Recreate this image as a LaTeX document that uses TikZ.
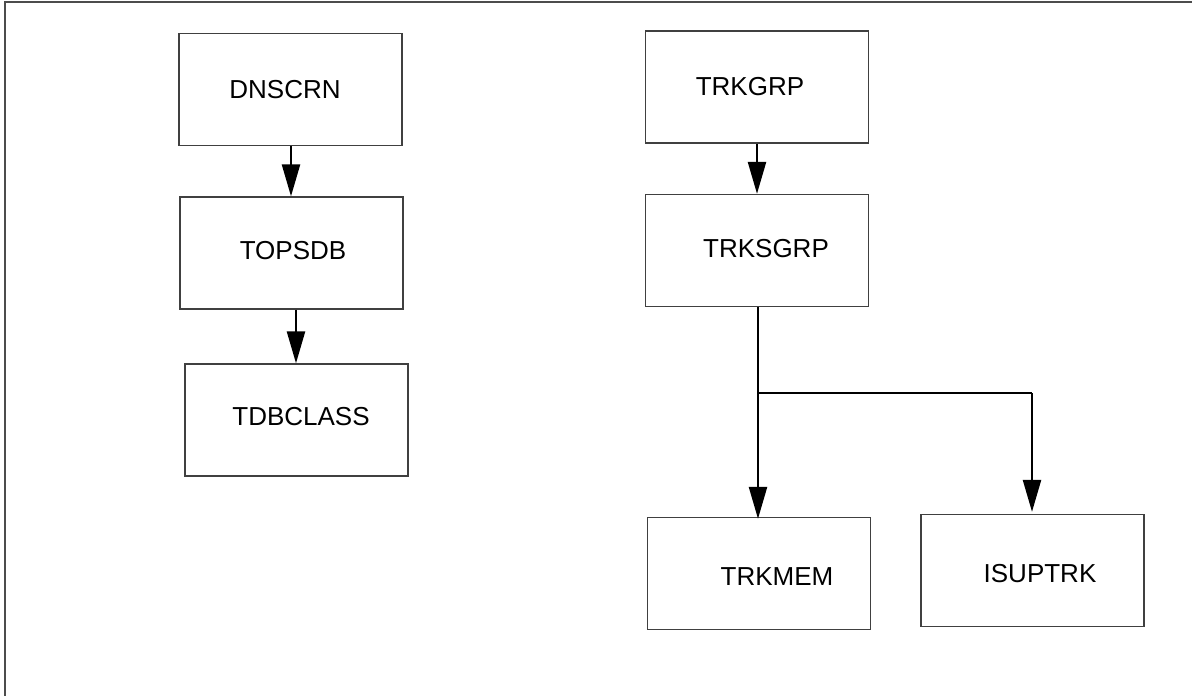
\documentclass[tikz,border=0pt]{standalone}
\usepackage{fontspec}
\setmainfont{Liberation Sans}
\usetikzlibrary{arrows.meta}
\begin{document}
\begin{tikzpicture}[x=1pt,y=-1pt,
  box/.style={draw=black!75, line width=1.3pt, fill=none, minimum width=223pt, minimum height=112pt, inner sep=0pt},
  lbl/.style={inner sep=0pt, font=\fontsize{26}{30}\selectfont},
  conn/.style={line width=2.4pt, -{Triangle[length=32pt, width=18pt]}},
  plain/.style={line width=2.2pt}]
\useasboundingbox (0,0) rectangle (1192,696);
\draw[black!70, line width=1.3pt] (5,696) -- (5,2) -- (1192,2);
% left column
\node[box] (dns) at (290.5,89.5) {};
\node[lbl] (dnsT) at (285,90) {DNSCRN};
\node[box] (tops) at (291.5,253) {};
\node[lbl] (topsT) at (293,251) {TOPSDB};
\node[box] (tdb) at (296.5,420) {};
\node[lbl] (tdbT) at (301,417) {TDBCLASS};
% right column
\node[box] (tg) at (757,87) {};
\node[lbl] (tgT) at (750,87) {TRKGRP};
\node[box] (tsg) at (757,250.5) {};
\node[lbl] (tsgT) at (766,249) {TRKSGRP};
\node[box] (mem) at (759,573.5) {};
\node[lbl] (memT) at (777,577) {TRKMEM};
\node[box] (isup) at (1032.5,570.5) {};
\node[lbl] (isupT) at (1040,574) {ISUPTRK};
% connectors
\draw[conn] (dns.south) ++(0.5,0) coordinate (a1) -- (a1 |- tops.north);
\draw[conn] (tops.south) ++(4.5,0) coordinate (a2) -- (a2 |- tdb.north);
\draw[conn] (tg.south) -- (tg.south |- tsg.north);
\coordinate (split) at (758,393);
\draw[plain] (tsg.south -| split) -- (split);
\draw[conn] (split) -- ([yshift=-2pt]split |- mem.north);
\coordinate (corner) at (1032,393);
\draw[plain] (split) -- (corner);
\draw[conn] (corner) -- ([yshift=2pt]corner |- isup.north);
\end{tikzpicture}
\end{document}
